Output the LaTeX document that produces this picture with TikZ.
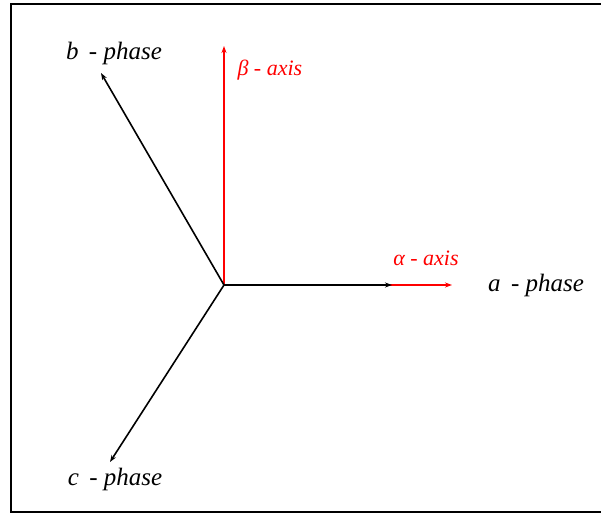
\documentclass[tikz,border=0pt]{standalone}
\usepackage{fontspec}
\setmainfont{Liberation Serif}
\usetikzlibrary{arrows.meta}
\begin{document}
\begin{tikzpicture}[x=1pt,y=-1pt,
	fase/.style={font=\fontsize{25}{28}\selectfont\itshape},
	eje/.style={font=\fontsize{22}{25}\selectfont\itshape, text=red},
	vec/.style={-{Stealth[length=7pt,width=5pt]}, line width=1.6pt}]
	\useasboundingbox (0,0) rectangle (601,514);
	% Marco
	\draw[line width=2pt] (601,4) -- (10.5,4) -- (10.5,512) -- (601,512);
	
	% Origen y ejes alfa-beta
	\coordinate (o) at (224,285);
	\coordinate (alfa) at (452,285);
	\coordinate (beta) at (224,46);
	\draw[vec, red, line width=1.4pt] (o) -- (alfa);
	\draw[vec, red, line width=1.4pt] (o) -- (beta);
	\node[eje] (lalfa) at (426,258) {α - axis};
	\node[eje, anchor=west] (lbeta) at (234,70) {β - axis};
	
	% Vectores de fase a, b, c
	\coordinate (fa) at (392,285);
	\coordinate (fb) at (101,73);
	\coordinate (fc) at (110,462);
	\draw[vec] (o) -- (fa);
	\draw[vec] (o) -- (fb);
	\draw[vec] (o) -- (fc);
	\node[fase] (la) at (536,285) {a \,- phase};
	\node[fase] (lb) at (114,53) {b \,- phase};
	\node[fase] (lc) at (115,479) {c \,- phase};
\end{tikzpicture}
\end{document}
